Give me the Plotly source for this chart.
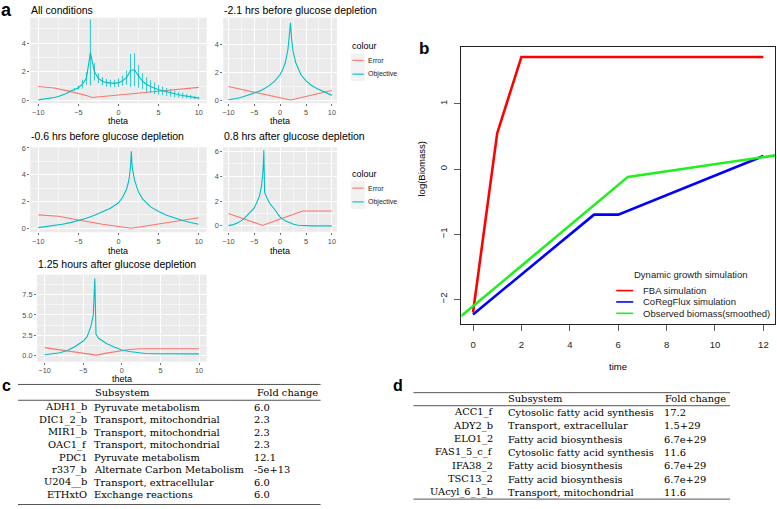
import plotly.graph_objects as go

W, H = 777, 509
SANS = "Liberation Sans, Arial, sans-serif"
SERIF = "DejaVu Serif, serif"
ERR_C = "#F8766D"
OBJ_C = "#00BFC4"

# ---------------- panel a data ----------------
theta_all = [-10, -9.5, -9, -8.5, -8, -7.5, -7, -6.5, -6, -5.5, -5, -4.5, -4, -3.5, -3, -2.5, -2, -1.5, -1, -0.5,
             0, 0.5, 1, 1.5, 2, 2.5, 3, 3.5, 4, 4.5, 5, 5.5, 6, 6.5, 7, 7.5, 8, 8.5, 9, 9.5, 10]
obj_all = [0.05, 0.08, 0.12, 0.16, 0.22, 0.29, 0.38, 0.5, 0.65, 0.78, 0.9, 1.15, 1.55, 3.35, 2.0, 1.55, 1.35, 1.25, 1.2, 1.2,
           1.25, 1.38, 1.6, 2.1, 2.15, 1.7, 1.35, 1.12, 0.98, 0.86, 0.76, 0.68, 0.6, 0.52, 0.46, 0.41, 0.36, 0.31, 0.26, 0.22, 0.17]
obj_all_sd = [0, 0, 0, 0, 0, 0, 0, 0, 0.05, 0.1, 0.15, 0.3, 0.45, 2.3, 0.6, 0.35, 0.3, 0.28, 0.25, 0.25,
              0.3, 0.35, 0.5, 1.15, 1.15, 0.8, 0.55, 0.5, 0.45, 0.4, 0.35, 0.3, 0.28, 0.25, 0.22, 0.2, 0.18, 0.15, 0.13, 0.12, 0.1]
err_all_theta = [-10, -8, -6.2, -5, -4, -3.3, -2, 0, 5, 10]
err_all = [0.98, 0.88, 0.66, 0.5, 0.35, 0.22, 0.28, 0.38, 0.65, 0.92]

theta_m21 = [-10, -9, -8, -7, -6, -5, -4, -3, -2, -1, 0, 0.5, 1, 1.5, 1.8, 2, 2.2, 2.5, 3, 3.5, 4, 5, 6, 7, 8, 9, 10]
obj_m21 = [0.07, 0.12, 0.2, 0.3, 0.41, 0.53, 0.68, 0.87, 1.1, 1.4, 1.85, 2.2, 2.7, 3.6, 4.5, 5.5, 4.4, 3.5, 2.7, 2.2,
           1.85, 1.4, 1.1, 0.88, 0.7, 0.53, 0.38]
err_m21_theta = [-10, -4, 2, 10]
err_m21 = [1.0, 0.53, 0.05, 0.72]

theta_m06 = [-10, -9, -8, -7, -6, -5, -4, -3, -2, -1, 0, 0.5, 1, 1.3, 1.5, 1.6, 1.7, 2, 2.5, 3, 4, 5, 6, 7, 8, 9, 10]
obj_m06 = [0.05, 0.12, 0.2, 0.3, 0.42, 0.57, 0.75, 0.97, 1.22, 1.5, 1.9, 2.3, 2.9, 3.6, 4.6, 5.75, 4.6, 3.6, 2.7, 2.2,
           1.6, 1.25, 0.98, 0.76, 0.58, 0.43, 0.3]
err_m06_theta = [-10, -7.5, -5, -2, 1.6, 5, 7.7, 10]
err_m06 = [1.0, 0.9, 0.62, 0.3, 0.0, 0.33, 0.58, 0.78]

theta_p08 = [-10, -9, -8, -7, -6, -5, -4.5, -4, -3.6, -3.3, -3.15, -3.0, -2.5, -2, -1.2, 0, 1, 2, 2.6, 3.5, 5, 6, 7, 8, 9, 10]
obj_p08 = [0.02, 0.1, 0.28, 0.56, 1.0, 1.45, 1.9, 2.4, 3.2, 4.5, 6.1, 2.7, 2.2, 1.8, 1.4, 0.7, 0.4, 0.2, 0.13, 0.05,
           0.0, 0.0, 0.0, 0.0, 0.0, 0.0]
err_p08_theta = [-10, -7, -3.4, 0, 4.4, 10]
err_p08 = [1.0, 0.57, 0.03, 0.55, 1.2, 1.2]

theta_p125 = [-10, -9, -8, -7, -6, -5, -4.5, -4, -3.7, -3.5, -3.35, -3, -2.5, -2, -1, 0, 1, 2, 3, 4, 5, 6, 7, 8, 9, 10]
obj_p125 = [0.04, 0.13, 0.3, 0.6, 1.1, 1.75, 2.3, 3.6, 5.0, 9.55, 2.6, 2.1, 1.75, 1.45, 1.0, 0.65, 0.45, 0.3, 0.2, 0.17,
            0.16, 0.16, 0.16, 0.16, 0.16, 0.16]
err_p125_theta = [-10, -3.3, -2, -1, 0, 1, 2, 2.5, 10]
err_p125 = [0.94, 0.0, 0.25, 0.42, 0.6, 0.7, 0.77, 0.8, 0.8]

panel_titles = ["All conditions", "-2.1 hrs before glucose depletion", "-0.6 hrs before glucose depletion",
                "0.8 hrs after glucose depletion", "1.25 hours after glucose depletion"]
legend_labels = ["Error", "Objective"]

# ---------------- panel b data ----------------
time_fba = [0, 1, 2, 12]
biomass_fba = [-2.2, 0.55, 1.72, 1.72]
time_coreg = [0, 5, 6, 12]
biomass_coreg = [-2.23, -0.70, -0.70, 0.20]
time_obs = [-0.5, 6.4, 12.5]
biomass_obs = [-2.26, -0.12, 0.21]
b_series = ["FBA simulation", "CoRegFlux simulation", "Observed biomass(smoothed)"]
b_colors = ["#FF0000", "#0000FF", "#22EE22"]

# ---------------- tables ----------------
c_reaction = ["ADH1_b", "DIC1_2_b", "MIR1_b", "OAC1_f", "PDC1", "r337_b", "U204__b", "ETHxtO"]
c_subsystem = ["Pyruvate metabolism", "Transport, mitochondrial", "Transport, mitochondrial",
               "Transport, mitochondrial", "Pyruvate metabolism", "Alternate Carbon Metabolism",
               "Transport, extracellular", "Exchange reactions"]
c_fold = ["6.0", "2.3", "2.3", "2.3", "12.1", "-5e+13", "6.0", "6.0"]

d_reaction = ["ACC1_f", "ADY2_b", "ELO1_2", "FAS1_5_c_f", "IFA38_2", "TSC13_2", "UAcyl_6_1_b"]
d_subsystem = ["Cytosolic fatty acid synthesis", "Transport, extracellular", "Fatty acid biosynthesis",
               "Cytosolic fatty acid synthesis", "Fatty acid biosynthesis", "Fatty acid biosynthesis",
               "Transport, mitochondrial"]
d_fold = ["17.2", "1.5+29", "6.7e+29", "11.6", "6.7e+29", "6.7e+29", "11.6"]


def px(x):
    return x / W


def py(y):
    return 1 - y / H


fig = go.Figure()
annotations = []
shapes = []


def ann(text, x, y, size, xanchor="center", color="#000000", family=SANS, angle=0):
    annotations.append(dict(text=text, x=px(x), y=py(y), xref="paper", yref="paper", showarrow=False,
                            xanchor=xanchor, yanchor="middle", borderpad=0, textangle=angle,
                            font=dict(size=size, color=color, family=family)))


def hline(x0, x1, y, color="#555555", width=1.0):
    shapes.append(dict(type="line", xref="paper", yref="paper", x0=px(x0), x1=px(x1), y0=py(y), y1=py(y),
                       line=dict(color=color, width=width)))


panels = [
    (1, (29.3, 206), (14, 100.5), [-0.19, 5.77], [0, 2, 4], None,
     theta_all, obj_all, obj_all_sd, err_all_theta, err_all),
    (2, (222.5, 336.5), (14, 100.5), [-0.18, 5.85], [0, 2, 4], None,
     theta_m21, obj_m21, None, err_m21_theta, err_m21),
    (3, (29.3, 206), (145, 231), [-0.3, 6.05], [0, 2, 4, 6], None,
     theta_m06, obj_m06, None, err_m06_theta, err_m06),
    (4, (222.5, 336.5), (145, 230.5), [-0.48, 6.34], [0, 2, 4, 6], None,
     theta_p08, obj_p08, None, err_p08_theta, err_p08),
    (5, (36, 206), (274, 362), [-0.82, 10.0], [0, 2.5, 5, 7.5], ["0.0", "2.5", "5.0", "7.5"],
     theta_p125, obj_p125, None, err_p125_theta, err_p125),
]

layout_axes = {}
for (i, (x0, x1), (y0, y1), yr, yt, ytt, th, ob, sd, eth, ev) in panels:
    xa = "x" if i == 1 else f"x{i}"
    ya = "y" if i == 1 else f"y{i}"
    fig.add_trace(go.Scatter(x=eth, y=ev, mode="lines", line=dict(color=ERR_C, width=1.1),
                             xaxis=xa, yaxis=ya, showlegend=False, name="Error"))
    tr = dict(x=th, y=ob, mode="lines", line=dict(color=OBJ_C, width=1.1),
              xaxis=xa, yaxis=ya, showlegend=False, name="Objective")
    if sd is not None:
        tr["error_y"] = dict(type="data", array=sd, visible=True, color="rgba(0,191,196,0.75)",
                             thickness=1.1, width=0)
    fig.add_trace(go.Scatter(**tr))
    common = dict(showgrid=True, gridcolor="white", gridwidth=1, zeroline=False, showline=False,
                  ticks="outside", ticklen=2, tickwidth=0.7, tickcolor="#333333",
                  tickfont=dict(size=7.3, color="#4D4D4D", family=SANS))
    layout_axes["xaxis" if i == 1 else f"xaxis{i}"] = dict(
        domain=[px(x0), px(x1)], range=[-11, 11], anchor=ya, tickvals=[-10, -5, 0, 5, 10],
        minor=dict(tickvals=[-7.5, -2.5, 2.5, 7.5], showgrid=True, gridcolor="white", gridwidth=0.5, ticklen=0),
        **common)
    minor_vals = [t + (yt[1] - yt[0]) / 2 for t in yt]
    layout_axes["yaxis" if i == 1 else f"yaxis{i}"] = dict(
        domain=[py(y1), py(y0)], range=yr, anchor=xa, tickvals=yt, ticktext=ytt if ytt else None,
        minor=dict(tickvals=minor_vals, showgrid=True, gridcolor="white", gridwidth=0.5, ticklen=0),
        **common)
    shapes.append(dict(type="rect", xref="paper", yref="paper", x0=px(x0), x1=px(x1), y0=py(y1), y1=py(y0),
                       fillcolor="#EBEBEB", line=dict(width=0), layer="below"))

# panel a titles / axis labels
ann("<b>a</b>", 6, 6, 18)
ann(panel_titles[0], 29, 6, 10.5, xanchor="left")
ann(panel_titles[1], 222, 6, 10.5, xanchor="left")
ann(panel_titles[2], 29, 134, 10.5, xanchor="left")
ann(panel_titles[3], 222, 134, 10.5, xanchor="left")
ann(panel_titles[4], 36, 263, 10.5, xanchor="left")
for (cx, cy) in [(117.6, 118.5), (279.5, 118.5), (117.6, 249.5), (279.5, 249.5), (121, 379)]:
    ann("theta", cx, cy, 9, xanchor="center")

# ggplot-style legends for panel a
for top in (43, 172.3):
    ann("colour", 350, top, 9, xanchor="left")
    for k, (lab, col) in enumerate(zip(legend_labels, [ERR_C, OBJ_C])):
        yc = top + 14 + 14 * k
        shapes.append(dict(type="rect", xref="paper", yref="paper", x0=px(350.5), x1=px(364.5),
                           y0=py(yc + 7), y1=py(yc - 7), fillcolor="#F2F2F2", line=dict(width=0)))
        shapes.append(dict(type="line", xref="paper", yref="paper", x0=px(351.8), x1=px(363.2),
                           y0=py(yc), y1=py(yc), line=dict(color=col, width=1.1)))
        ann(lab, 366.5, yc, 7, xanchor="left", color="#222222")

# ---------------- panel b ----------------
for t, b, col, nm in zip([time_fba, time_coreg, time_obs], [biomass_fba, biomass_coreg, biomass_obs],
                         b_colors, b_series):
    fig.add_trace(go.Scatter(x=t, y=b, mode="lines", line=dict(color=col, width=2.6),
                             xaxis="x6", yaxis="y6", showlegend=False, name=nm))

bcommon = dict(showgrid=False, zeroline=False, showline=True, mirror=True, linecolor="#222222", linewidth=1,
               ticks="outside", ticklen=6, tickwidth=0.8, tickcolor="#333333",
               tickfont=dict(size=9.5, color="#222222", family=SANS))
layout_axes["xaxis6"] = dict(domain=[px(461), px(775)], range=[-0.48, 12.48], anchor="y6",
                             tickvals=[0, 2, 4, 6, 8, 10, 12], ticklabelstandoff=5, **bcommon)
layout_axes["yaxis6"] = dict(domain=[py(324), py(44)], range=[-2.38, 1.865], anchor="x6",
                             tickvals=[-2, -1, 0, 1], tickangle=-90, ticklabelstandoff=4, **bcommon)

ann("<b>b</b>", 424, 45, 17)
ann("log(Biomass)", 421, 167, 9.5, angle=-90)
ann("time", 618, 367, 9.5)
ann("Dynamic growth simulation", 690.5, 274, 9.5, color="#222222")
for k, (nm, col) in enumerate(zip(b_series, b_colors)):
    yc = [290, 301.5, 313][k]
    shapes.append(dict(type="line", xref="paper", yref="paper", x0=px(616), x1=px(633), y0=py(yc), y1=py(yc),
                       line=dict(color=col, width=1.6)))
    ann(nm, 642, yc, 9.5, xanchor="left", color="#222222")

# ---------------- table c ----------------
TF = 9.9
ann("<b>c</b>", 6, 386, 16)
hline(17, 320, 385)
hline(17, 320, 401)
hline(17, 320, 506.5)
ann("Subsystem", 93, 393, TF, xanchor="left", family=SERIF)
ann("Fold change", 255, 393, TF, xanchor="left", family=SERIF)
for k in range(len(c_reaction)):
    yc = 408.3 + 12.65 * k
    ann(c_reaction[k], 87.5, yc, TF, xanchor="right", family=SERIF)
    ann(c_subsystem[k], 92.5, yc, TF, xanchor="left", family=SERIF)
    ann(c_fold[k], 252, yc, TF, xanchor="left", family=SERIF)

# ---------------- table d ----------------
ann("<b>d</b>", 398, 386, 16)
hline(413, 730, 393.3)
hline(413, 730, 406.5)
hline(413, 730, 501)
ann("Subsystem", 507, 399.5, TF, xanchor="left", family=SERIF)
ann("Fold change", 664, 399.5, TF, xanchor="left", family=SERIF)
for k in range(len(d_reaction)):
    yc = 413.3 + 13.5 * k
    ann(d_reaction[k], 493.5, yc, TF, xanchor="right", family=SERIF)
    ann(d_subsystem[k], 507, yc, TF, xanchor="left", family=SERIF)
    ann(d_fold[k], 663, yc, TF, xanchor="left", family=SERIF)

fig.update_layout(width=W, height=H, margin=dict(l=0, r=0, t=0, b=0), paper_bgcolor="white",
                  plot_bgcolor="rgba(0,0,0,0)", showlegend=False, annotations=annotations, shapes=shapes,
                  hovermode=False, **layout_axes)
fig.write_html("out.html", config={"displayModeBar": False, "staticPlot": True},
               post_script="document.body.style.margin='0px';document.body.style.overflow='hidden';")
